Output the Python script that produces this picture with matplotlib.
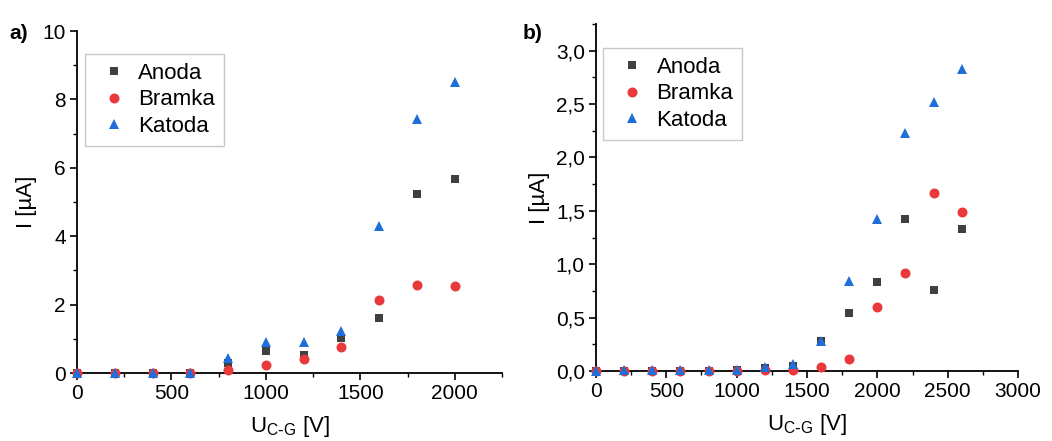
import numpy as np
import matplotlib.pyplot as plt
from matplotlib.ticker import MultipleLocator, FuncFormatter

plt.rcParams['font.family'] = ['Liberation Sans', 'DejaVu Sans']

# panel a data
u_a = [0, 200, 400, 600, 800, 1000, 1200, 1400, 1600, 1800, 2000]
anoda_a = [0.0, 0.0, 0.0, 0.0, 0.29, 0.65, 0.53, 1.04, 1.62, 5.24, 5.67]
bramka_a = [0.0, 0.0, 0.0, 0.0, 0.08, 0.25, 0.41, 0.76, 2.15, 2.58, 2.55]
katoda_a = [0.0, 0.01, 0.01, 0.01, 0.44, 0.90, 0.92, 1.24, 4.31, 7.43, 8.52]

# panel b data
u_b = [0, 200, 400, 600, 800, 1000, 1200, 1400, 1600, 1800, 2000, 2200, 2400, 2600]
anoda_b = [0.0, 0.0, 0.0, 0.0, 0.0, 0.01, 0.03, 0.05, 0.28, 0.54, 0.83, 1.42, 0.76, 1.33]
bramka_b = [0.0, 0.0, 0.0, 0.0, 0.0, 0.0, 0.01, 0.01, 0.04, 0.11, 0.60, 0.92, 1.67, 1.49]
katoda_b = [0.0, 0.01, 0.01, 0.01, 0.01, 0.01, 0.04, 0.07, 0.28, 0.84, 1.42, 2.23, 2.52, 2.83]

names = ['Anoda', 'Bramka', 'Katoda']
colors = ['#404040', '#e8393c', '#1e6fd9']
markers = ['s', 'o', '^']
sizes = [6.3, 7.2, 7.8]

fig = plt.figure(figsize=(10.52, 4.41), dpi=100)
ax_a = fig.add_axes([0.0732, 0.154, 0.404, 0.7757])
ax_b = fig.add_axes([0.5665, 0.1587, 0.4012, 0.7869])


def style(ax):
    for s in ['top', 'right']:
        ax.spines[s].set_visible(False)
    for s in ['left', 'bottom']:
        ax.spines[s].set_linewidth(1.3)
    ax.tick_params(which='major', direction='out', length=5, width=1.2, labelsize=15, pad=3)
    ax.tick_params(which='minor', direction='out', length=3, width=1.0)


def draw(ax, x, series):
    for ys, n, c, m, s in zip(series, names, colors, markers, sizes):
        ax.plot(x, ys, linestyle='none', marker=m, markersize=s, color=c,
                markeredgewidth=0, label=n, clip_on=False, zorder=3)


draw(ax_a, u_a, [anoda_a, bramka_a, katoda_a])
ax_a.set_xlim(0, 2250)
ax_a.set_ylim(0, 10)
ax_a.xaxis.set_major_locator(MultipleLocator(500))
ax_a.xaxis.set_minor_locator(MultipleLocator(250))
ax_a.yaxis.set_major_locator(MultipleLocator(2))
ax_a.yaxis.set_minor_locator(MultipleLocator(1))
style(ax_a)

draw(ax_b, u_b, [anoda_b, bramka_b, katoda_b])
ax_b.set_xlim(0, 3000)
ax_b.set_ylim(0, 3.25)
ax_b.xaxis.set_major_locator(MultipleLocator(500))
ax_b.xaxis.set_minor_locator(MultipleLocator(250))
ax_b.yaxis.set_major_locator(MultipleLocator(0.5))
ax_b.yaxis.set_minor_locator(MultipleLocator(0.25))
ax_b.yaxis.set_major_formatter(FuncFormatter(lambda v, p: f'{v:.1f}'.replace('.', ',')))
style(ax_b)

for ax, anchor in [(ax_a, (0.019, 0.933)), (ax_b, (0.017, 0.931))]:
    ax.set_xlabel('U$_{\\mathregular{C\\text{-}G}}$ [V]', fontsize=16, labelpad=8)
    ax.set_ylabel('I [µA]', fontsize=16, labelpad=4)
    leg = ax.legend(loc='upper left', bbox_to_anchor=anchor, borderaxespad=0,
                    fontsize=16, frameon=True, fancybox=False, handlelength=1.8,
                    handletextpad=0.2, borderpad=0.4, labelspacing=0.25)
    leg.get_frame().set_edgecolor('#bbbbbb')
    leg.get_frame().set_linewidth(1.0)

fig.text(0.009, 0.912, 'a)', fontsize=15, fontweight='bold')
fig.text(0.497, 0.912, 'b)', fontsize=15, fontweight='bold')

fig.savefig('out.png', dpi=100)
